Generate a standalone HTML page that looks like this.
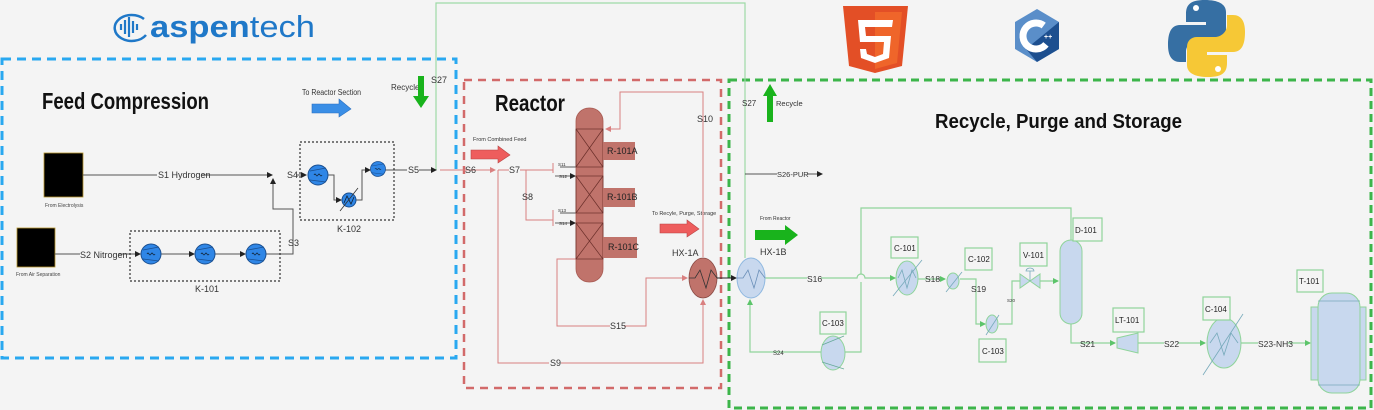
<!DOCTYPE html>
<html><head><meta charset="utf-8"><style>
html,body{margin:0;padding:0;background:#f4f4f4;}
svg{display:block;font-family:"Liberation Sans",sans-serif;}
</style></head><body>
<svg width="1374" height="410" viewBox="0 0 1374 410" xmlns="http://www.w3.org/2000/svg">
<defs>
<marker id="ab" markerWidth="6" markerHeight="6" refX="5" refY="3" orient="auto" markerUnits="userSpaceOnUse"><path d="M0,0 L6,3 L0,6 z" fill="#222"/></marker>
<marker id="ar" markerWidth="6" markerHeight="6" refX="5" refY="3" orient="auto" markerUnits="userSpaceOnUse"><path d="M0,0 L6,3 L0,6 z" fill="#d98080"/></marker>
<marker id="ag" markerWidth="6" markerHeight="6" refX="5" refY="3" orient="auto" markerUnits="userSpaceOnUse"><path d="M0,0 L6,3 L0,6 z" fill="#5cc46a"/></marker>
<g id="comp"><circle r="10" fill="#2f86e6" stroke="#1a4f90" stroke-width="1"/><path d="M-8,-4 L8,-7 M-8,5 L8,7" stroke="#1a4f90" stroke-width="0.8"/><path d="M-4,0 q1,-2 2,0 q1,2 2,0 q1,-2 2,0 q1,2 2,0" stroke="#123" fill="none" stroke-width="0.8"/></g>
</defs>
<rect width="1374" height="410" fill="#f4f4f4"/>

<!-- logos -->
<g fill="none" stroke="#1f78c8" stroke-width="2.5">
<path d="M144,19 A17,13 0 1 0 146,35"/>
</g>
<g stroke="#1f78c8" stroke-width="2.2"><line x1="121" y1="24" x2="121" y2="30"/><line x1="125" y1="20" x2="125" y2="34"/><line x1="129" y1="17" x2="129" y2="37"/><line x1="133" y1="21" x2="133" y2="33"/><line x1="137" y1="24" x2="137" y2="30"/></g>
<text x="150" y="37" font-size="31" fill="#1f78c8" textLength="165" lengthAdjust="spacingAndGlyphs"><tspan font-weight="bold">aspen</tspan>tech</text>

<path d="M843,6 L908,6 L902,66 L875,73 L849,66 Z" fill="#e34f26"/>
<path d="M875,12 L902,12 L897,63 L875,69 Z" fill="#ef652a"/>
<path d="M893,20 L858,20 L860,42 L884,42 L883,54 L875,57 L867,54 L866,49 L860,49 L861,58 L875,63 L889,58 L891,36 L866,36 L865,27 L892,27 Z" fill="#fff"/>

<path d="M1037,9 L1059,22 L1059,49 L1037,62 L1015,49 L1015,22 Z" fill="#5a8ec9"/>
<path d="M1059,22 L1059,49 L1037,62 L1026,49 Z" fill="#1d4f8f"/>
<circle cx="1036" cy="36" r="13" fill="none" stroke="#fff" stroke-width="7" stroke-dasharray="60 22" transform="rotate(40 1036 36)"/>
<text x="1044" y="39" font-size="7" fill="#fff" font-weight="bold">++</text>

<path d="M1205,0 C1190,0 1186,5 1186,14 L1186,22 L1206,22 L1206,25 L1180,25 C1170,25 1168,35 1168,45 C1168,56 1172,62 1180,62 L1186,62 L1186,52 C1186,45 1192,40 1198,40 L1216,40 C1222,40 1226,36 1226,30 L1226,12 C1226,4 1218,0 1205,0 Z" fill="#366fa3"/>
<path d="M1208,77 C1223,77 1227,72 1227,63 L1227,55 L1207,55 L1207,52 L1233,52 C1243,52 1245,42 1245,32 C1245,21 1241,15 1233,15 L1227,15 L1227,25 C1227,32 1221,37 1215,37 L1197,37 C1191,37 1187,41 1187,47 L1187,65 C1187,73 1195,77 1208,77 Z" fill="#f6c836"/>
<circle cx="1196" cy="8" r="3" fill="#fff"/><circle cx="1218" cy="69" r="3" fill="#fff"/>

<!-- section boxes -->
<rect x="2" y="59" width="454" height="299" fill="none" stroke="#29a8f0" stroke-width="3" stroke-dasharray="9,6"/>
<rect x="464" y="80" width="257" height="308" fill="none" stroke="#d26a6a" stroke-width="2.5" stroke-dasharray="8,6"/>
<rect x="729" y="80" width="642" height="328" fill="none" stroke="#3cb54a" stroke-width="3" stroke-dasharray="8,5"/>

<!-- recycle S27 -->
<path d="M436,170 L436,3 L745,3 L745,258" fill="none" stroke="#9ed9a6" stroke-width="1.2"/>
<text x="431" y="83" font-size="9" fill="#333">S27</text>

<!-- Feed compression -->
<text x="42" y="109" font-size="23" font-weight="bold" fill="#111" textLength="167" lengthAdjust="spacingAndGlyphs">Feed Compression</text>
<text x="302" y="95" font-size="8" fill="#333" textLength="59" lengthAdjust="spacingAndGlyphs">To Reactor Section</text>
<path d="M312,104 L339,104 L339,99 L351,109 L339,117 L339,113 L312,113 Z" fill="#3a8ee6" stroke="#2a6fc0" stroke-width="0.6"/>
<text x="391" y="90" font-size="8" fill="#333">Recycle</text>
<path d="M418,76 L424,76 L424,96 L429,96 L421,108 L413,96 L418,96 Z" fill="#19b31c"/>

<rect x="44" y="153" width="39" height="44" fill="#000" stroke="#b8962c" stroke-width="0.8"/>
<text x="45" y="207" font-size="5" fill="#444">From  Electrolysis</text>
<rect x="17" y="228" width="38" height="39" fill="#000" stroke="#b8962c" stroke-width="0.8"/>
<text x="16" y="276" font-size="5" fill="#444">From Air Separation</text>

<g stroke="#555" stroke-width="1" fill="none">
<line x1="83" y1="175" x2="272" y2="175" marker-end="url(#ab)"/>
<line x1="286" y1="175" x2="306" y2="175" marker-end="url(#ab)"/>
<line x1="55" y1="254" x2="140" y2="254" marker-end="url(#ab)"/>
<line x1="161" y1="254" x2="194" y2="254" marker-end="url(#ab)"/>
<line x1="215" y1="254" x2="245" y2="254" marker-end="url(#ab)"/>
<path d="M266,254 L293,254 L293,209 L273,209 L273,179" marker-end="url(#ab)"/>
<path d="M328,175 L334,175 L334,200 L341,200" marker-end="url(#ab)"/>
<path d="M356,200 L362,200 L362,170 L370,170" marker-end="url(#ab)"/>
<line x1="385" y1="170" x2="436" y2="170" marker-end="url(#ab)"/>
</g>
<line x1="440" y1="170" x2="466" y2="170" stroke="#d98080" stroke-width="1"/>
<g font-size="9" fill="#333">
<rect x="157" y="169" width="44" height="10" fill="#f4f4f4"/><text x="158" y="178">S1 Hydrogen</text>
<rect x="80" y="249" width="38" height="10" fill="#f4f4f4"/><text x="80" y="258">S2 Nitrogen</text>
<rect x="286" y="170" width="10" height="10" fill="#f4f4f4"/><text x="287" y="178">S4</text>
<text x="288" y="246">S3</text>
<rect x="407" y="165" width="12" height="10" fill="#f4f4f4"/><text x="408" y="173">S5</text>
<text x="195" y="292">K-101</text>
<text x="337" y="232">K-102</text>
</g>
<rect x="130" y="231" width="150" height="50" fill="none" stroke="#333" stroke-width="1.2" stroke-dasharray="2,2"/>
<rect x="300" y="142" width="94" height="78" fill="none" stroke="#333" stroke-width="1.2" stroke-dasharray="2,2"/>
<use href="#comp" x="151" y="254"/><use href="#comp" x="205" y="254"/><use href="#comp" x="256" y="254"/>
<use href="#comp" x="318" y="175"/>
<use href="#comp" x="378" y="169" transform="translate(378 169) scale(0.75) translate(-378 -169)"/>
<circle cx="349" cy="200" r="7" fill="#2f86e6" stroke="#1a4f90"/>
<path d="M344,203 L347,196 L351,204 L354,197" stroke="#123" fill="none" stroke-width="0.8"/>
<line x1="340" y1="211" x2="358" y2="188" stroke="#333" stroke-width="0.8"/>

<!-- Reactor -->
<text x="495" y="111" font-size="23" font-weight="bold" fill="#111" textLength="70" lengthAdjust="spacingAndGlyphs">Reactor</text>
<text x="473" y="141" font-size="5.5" fill="#333">From Combined Feed</text>
<path d="M471,150 L498,150 L498,146 L510,155 L498,163 L498,159 L471,159 Z" fill="#ee5d5d" stroke="#b84444" stroke-width="0.6"/>
<text x="652" y="215" font-size="5.5" fill="#333">To Recyle, Purge, Storage</text>
<path d="M660,224 L687,224 L687,220 L699,229 L687,237 L687,233 L660,233 Z" fill="#ee5d5d" stroke="#b84444" stroke-width="0.6"/>

<g stroke="#d98080" stroke-width="1" fill="none">
<line x1="466" y1="170" x2="495" y2="170" marker-end="url(#ar)"/>
<line x1="498" y1="170" x2="553" y2="170"/>
<path d="M526,170 L526,220 L553,220"/>
<path d="M553,163 L553,173 M553,210 L553,226"/>
<path d="M498,170 L498,363 L703,363 L703,300" marker-end="url(#ar)"/>
<path d="M576,259 L557,259 L557,326 L646,326 L646,278 L687,278" marker-end="url(#ar)"/>
<path d="M703,257 L703,92 L620,92 L620,129 L606,129" marker-end="url(#ar)"/>
</g>
<g stroke="#333" stroke-width="0.8" fill="none">
<line x1="560" y1="167" x2="576" y2="167"/>
<line x1="555" y1="176" x2="575" y2="176" marker-end="url(#ab)"/>
<line x1="560" y1="213" x2="576" y2="213"/>
<line x1="555" y1="223" x2="575" y2="223" marker-end="url(#ab)"/>
</g>
<g font-size="4.5" fill="#333"><text x="558" y="166">S11</text><text x="559" y="178">S12</text><text x="558" y="212">S13</text><text x="559" y="225">S14</text></g>

<rect x="576" y="108" width="27" height="174" rx="13" fill="#c0736b" stroke="#a85a52" stroke-width="0.8"/>
<g stroke="#6b2f2a" stroke-width="0.7" fill="none">
<rect x="576" y="129" width="27" height="38"/><path d="M576,129 L603,167 M603,129 L576,167"/>
<rect x="576" y="176" width="27" height="37"/><path d="M576,176 L603,213 M603,176 L576,213"/>
<rect x="576" y="223" width="27" height="36"/><path d="M576,223 L603,259 M603,223 L576,259"/>
</g>
<rect x="603" y="142" width="32" height="18" fill="#c0736b"/>
<rect x="603" y="188" width="32" height="19" fill="#c0736b"/>
<rect x="603" y="237" width="34" height="21" fill="#c0736b"/>
<g font-size="9" fill="#222"><text x="607" y="154">R-101A</text><text x="607" y="200">R-101B</text><text x="608" y="250">R-101C</text></g>

<ellipse cx="703" cy="278" rx="14" ry="20" fill="#c0736b" stroke="#8a4a44" stroke-width="0.8"/>
<path d="M689,278 L695,278 L700,270 L706,288 L711,270 L717,278" stroke="#333" fill="none" stroke-width="0.8"/>
<line x1="717" y1="278" x2="736" y2="278" stroke="#222" stroke-width="1" marker-end="url(#ab)"/>
<g font-size="9" fill="#333">
<text x="465" y="173">S6</text>
<rect x="509" y="165" width="11" height="10" fill="#f4f4f4"/><text x="509" y="173">S7</text>
<text x="522" y="200">S8</text>
<text x="697" y="122">S10</text>
<rect x="610" y="321" width="14" height="10" fill="#f4f4f4"/><text x="610" y="329">S15</text>
<rect x="549" y="358" width="12" height="10" fill="#f4f4f4"/><text x="550" y="366">S9</text>
<text x="672" y="256">HX-1A</text>
</g>

<!-- Recycle, Purge, Storage -->
<text x="935" y="128" font-size="20" font-weight="bold" fill="#111" textLength="247" lengthAdjust="spacingAndGlyphs">Recycle, Purge and Storage</text>
<text x="742" y="106" font-size="8" fill="#333">S27</text>
<path d="M767,122 L767,96 L763,96 L770,84 L777,96 L773,96 L773,122 Z" fill="#19b31c"/>
<text x="776" y="106" font-size="7.5" fill="#333">Recycle</text>
<line x1="745" y1="174" x2="822" y2="174" stroke="#222" stroke-width="0.8" marker-end="url(#ab)"/>
<rect x="777" y="169" width="30" height="9" fill="#f4f4f4"/><text x="777" y="177" font-size="7.5" fill="#333">S26-PUR</text>
<text x="760" y="220" font-size="5" fill="#333">From Reactor</text>
<path d="M755,230 L785,230 L785,225 L798,235 L785,245 L785,240 L755,240 Z" fill="#19b31c"/>
<text x="760" y="255" font-size="9" fill="#333">HX-1B</text>

<g stroke="#8fd49a" stroke-width="1.2" fill="none">
<path d="M765,278 L857,278 A4,4 0 0 1 865,278 L895,278" marker-end="url(#ag)"/>
<path d="M845,352 L861,352 L861,282 M861,274 L861,208 L1071,208 L1071,240"/>
<path d="M821,352 L750,352 L750,300" marker-end="url(#ag)"/>
<path d="M918,279 L945,279" marker-end="url(#ag)"/>
<path d="M960,279 L976,279 L976,324 L985,324" marker-end="url(#ag)"/>
<path d="M999,324 L1012,324 L1012,281 L1020,281"/>
<path d="M1040,281 L1058,281" marker-end="url(#ag)"/>
<path d="M1071,323 L1071,343 L1115,343" marker-end="url(#ag)"/>
<path d="M1138,343 L1205,343" marker-end="url(#ag)"/>
<path d="M1241,343 L1310,343" marker-end="url(#ag)"/>
</g>
<ellipse cx="751" cy="278" rx="14" ry="20" fill="#c8d8ee" stroke="#8fb8e0" stroke-width="1"/>
<path d="M737,278 L743,278 L748,270 L754,288 L759,270 L765,278" stroke="#6a8fb8" fill="none" stroke-width="0.8"/>
<ellipse cx="833" cy="353" rx="12" ry="17" fill="#c8d8ee" stroke="#8fd49a"/>
<path d="M822,345 L844,336 M822,362 L844,369" stroke="#6a9" stroke-width="0.8"/>
<g fill="#c8d8ee" stroke="#8fd49a">
<ellipse cx="907" cy="278" rx="11" ry="17"/>
<ellipse cx="953" cy="281" rx="6" ry="8"/>
<ellipse cx="992" cy="324" rx="6" ry="9"/>
<ellipse cx="1224" cy="343" rx="17" ry="25"/>
<rect x="1060" y="240" width="22" height="84" rx="11"/>
<path d="M1117,338 L1138,333 L1138,353 L1117,348 Z"/>
<rect x="1311" y="307" width="55" height="73"/>
<rect x="1318" y="293" width="42" height="100" rx="14"/>
<path d="M1020,274 L1040,288 L1040,274 L1020,288 Z"/>
</g>
<g stroke="#7ab" stroke-width="0.8" fill="none">
<path d="M898,278 L902,270 L907,288 L912,270 L916,278"/><line x1="893" y1="296" x2="922" y2="260"/>
<line x1="946" y1="292" x2="962" y2="272"/><line x1="986" y1="335" x2="999" y2="315"/>
<path d="M1210,343 L1217,333 L1224,355 L1231,333 L1238,343"/><line x1="1203" y1="375" x2="1243" y2="314"/>
<line x1="1318" y1="301" x2="1360" y2="301"/><line x1="1318" y1="385" x2="1360" y2="385"/>
<line x1="1030" y1="281" x2="1030" y2="271"/><path d="M1026,271 A4,3 0 0 1 1034,271 Z"/>
</g>
<g fill="#f4f4f4" stroke="#8fd49a" stroke-width="1.2">
<rect x="891" y="237" width="27" height="21"/><rect x="965" y="248" width="27" height="22"/>
<rect x="979" y="339" width="27" height="23"/><rect x="1020" y="243" width="27" height="23"/>
<rect x="1073" y="218" width="29" height="23"/><rect x="1113" y="308" width="31" height="24"/>
<rect x="1203" y="297" width="27" height="23"/><rect x="1297" y="270" width="26" height="22"/>
<rect x="820" y="312" width="26" height="22"/>
</g>
<g font-size="8" fill="#222">
<text x="894" y="251">C-101</text><text x="968" y="262">C-102</text><text x="982" y="354">C-103</text>
<text x="1023" y="258">V-101</text><text x="1075" y="233">D-101</text><text x="1115" y="323">LT-101</text>
<text x="1205" y="312">C-104</text><text x="1299" y="284">T-101</text><text x="822" y="326">C-103</text>
</g>
<g font-size="8.5" fill="#333">
<rect x="807" y="273" width="14" height="10" fill="#f4f4f4"/><text x="807" y="282">S16</text>
<text x="925" y="282">S18</text><text x="971" y="292">S19</text>
<text x="1080" y="347">S21</text>
<rect x="1164" y="338" width="14" height="10" fill="#f4f4f4"/><text x="1164" y="347">S22</text>
<rect x="1258" y="338" width="30" height="10" fill="#f4f4f4"/><text x="1258" y="347">S23-NH3</text>
<text x="773" y="355" font-size="6">S24</text>
<text x="1007" y="302" font-size="4.5">S20</text>
</g>
</svg>
</body></html>
